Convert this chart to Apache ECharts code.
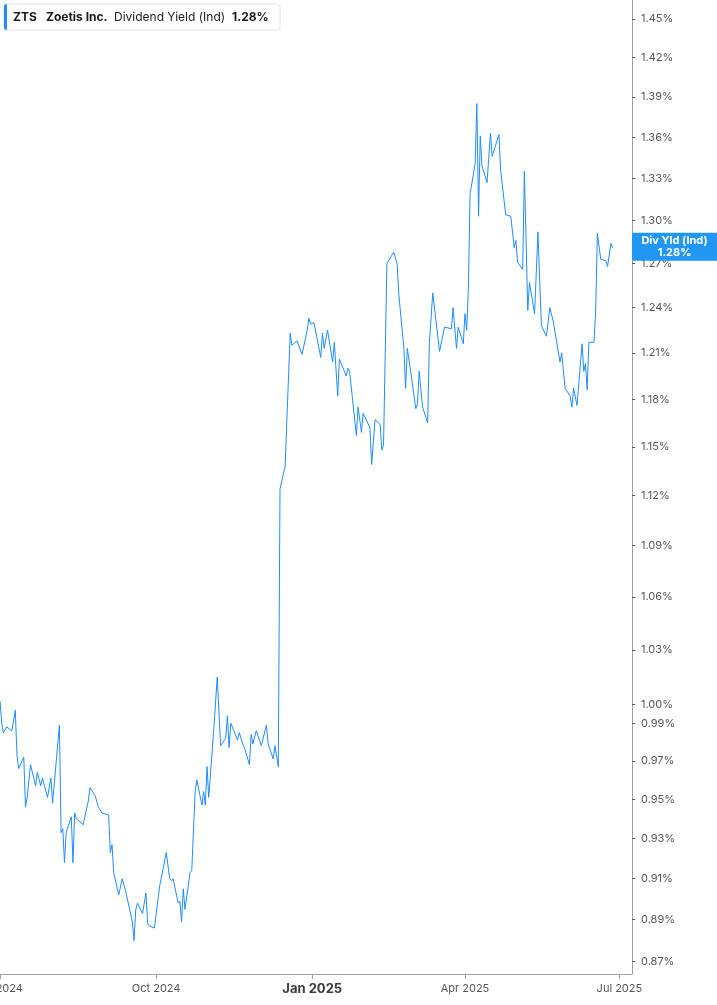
<!DOCTYPE html>
<html>
<head>
<meta charset="utf-8">
<title>ZTS Dividend Yield</title>
<script src="https://cdn.jsdelivr.net/npm/echarts@6.0.0/dist/echarts.min.js"></script>
<style>
  html, body { margin: 0; padding: 0; background: #fff; }
  #chart { width: 717px; height: 1005px; }
</style>
</head>
<body>
<div id="chart"></div>
<script>
// 日期 (交易日, 按月分行)
var dates = [
  '2024-07-01','2024-07-02','2024-07-03','2024-07-05','2024-07-08','2024-07-10','2024-07-11','2024-07-12','2024-07-15','2024-07-16','2024-07-17','2024-07-19','2024-07-22','2024-07-23','2024-07-25','2024-07-26','2024-07-29','2024-07-30','2024-07-31',
  '2024-08-01','2024-08-05','2024-08-06','2024-08-07','2024-08-08','2024-08-09','2024-08-12','2024-08-13','2024-08-14','2024-08-15','2024-08-16','2024-08-19','2024-08-22','2024-08-23','2024-08-26','2024-08-28','2024-08-29','2024-08-30',
  '2024-09-03','2024-09-04','2024-09-05','2024-09-06','2024-09-09','2024-09-11','2024-09-13','2024-09-17','2024-09-18','2024-09-19','2024-09-20','2024-09-23','2024-09-24','2024-09-25','2024-09-26','2024-09-27','2024-09-30',
  '2024-10-03','2024-10-07','2024-10-08','2024-10-09','2024-10-10','2024-10-11','2024-10-14','2024-10-15','2024-10-16','2024-10-17','2024-10-18','2024-10-21','2024-10-22','2024-10-24','2024-10-25','2024-10-28','2024-10-29','2024-10-30','2024-10-31',
  '2024-11-01','2024-11-04','2024-11-05','2024-11-06','2024-11-08','2024-11-11','2024-11-12','2024-11-13','2024-11-14','2024-11-18','2024-11-19','2024-11-21','2024-11-22','2024-11-25','2024-11-26','2024-11-27','2024-11-29',
  '2024-12-02','2024-12-03','2024-12-05','2024-12-06','2024-12-09','2024-12-10','2024-12-12','2024-12-13','2024-12-16','2024-12-19','2024-12-20','2024-12-23','2024-12-26','2024-12-29','2024-12-30','2024-12-31',
  '2025-01-02','2025-01-06','2025-01-07','2025-01-08','2025-01-10','2025-01-13','2025-01-14','2025-01-16','2025-01-17','2025-01-21','2025-01-22','2025-01-23','2025-01-27','2025-01-28','2025-01-29','2025-01-30','2025-01-31',
  '2025-02-04','2025-02-05','2025-02-07','2025-02-10','2025-02-11','2025-02-12','2025-02-14','2025-02-18','2025-02-19','2025-02-20','2025-02-21','2025-02-24','2025-02-25','2025-02-26','2025-02-27','2025-02-28',
  '2025-03-03','2025-03-04','2025-03-05','2025-03-06','2025-03-07','2025-03-10','2025-03-11','2025-03-13','2025-03-17','2025-03-20','2025-03-21','2025-03-24','2025-03-25','2025-03-27','2025-03-28','2025-03-31',
  '2025-04-01','2025-04-02','2025-04-03','2025-04-04','2025-04-05','2025-04-07','2025-04-08','2025-04-09','2025-04-10','2025-04-11','2025-04-14','2025-04-16','2025-04-17','2025-04-21','2025-04-22','2025-04-25','2025-04-28','2025-04-30',
  '2025-05-01','2025-05-02','2025-05-05','2025-05-06','2025-05-08','2025-05-09','2025-05-12','2025-05-14','2025-05-16','2025-05-19','2025-05-20','2025-05-21','2025-05-23','2025-05-27','2025-05-28','2025-05-30',
  '2025-06-02','2025-06-03','2025-06-04','2025-06-05','2025-06-06','2025-06-09','2025-06-10','2025-06-11','2025-06-12','2025-06-13','2025-06-16','2025-06-17','2025-06-18','2025-06-20','2025-06-23','2025-06-24','2025-06-26','2025-06-27'
];
// 股息率 (%)
var yields = [
  1.002,0.990,0.985,0.988,0.986,0.997,0.973,0.966,0.972,0.946,0.951,0.968,0.957,0.964,0.957,0.961,0.951,0.951,0.961,
  0.948,0.989,0.933,0.935,0.918,0.933,0.941,0.918,0.943,0.940,0.941,0.937,0.949,0.956,0.952,0.946,0.946,0.943,
  0.942,0.923,0.927,0.913,0.902,0.910,0.904,0.889,0.880,0.895,0.898,0.893,0.893,0.903,0.888,0.887,0.886,
  0.906,0.923,0.923,0.910,0.909,0.910,0.898,0.899,0.889,0.905,0.895,0.913,0.914,0.954,0.960,0.947,0.954,0.947,0.967,
  0.951,0.987,0.987,1.015,0.978,0.982,0.994,0.977,0.990,0.981,0.985,0.979,0.977,0.968,0.984,0.979,0.986,
  0.978,0.977,0.989,0.979,0.971,0.978,0.967,1.124,1.138,1.223,1.215,1.218,1.209,1.225,1.233,1.229,
  1.230,1.207,1.223,1.213,1.225,1.204,1.217,1.182,1.206,1.195,1.200,1.198,1.157,1.175,1.175,1.159,1.171,
  1.162,1.139,1.167,1.164,1.148,1.151,1.270,1.278,1.277,1.270,1.249,1.213,1.187,1.213,1.213,1.198,
  1.174,1.177,1.198,1.197,1.175,1.165,1.216,1.250,1.211,1.227,1.227,1.226,1.240,1.213,1.227,1.216,
  1.236,1.225,1.253,1.319,1.326,1.341,1.385,1.303,1.361,1.339,1.327,1.363,1.346,1.362,1.336,1.304,1.303,1.281,
  1.286,1.271,1.266,1.335,1.238,1.257,1.236,1.292,1.228,1.221,1.222,1.240,1.231,1.204,1.210,1.187,
  1.182,1.175,1.187,1.186,1.176,1.216,1.198,1.203,1.186,1.217,1.217,1.237,1.291,1.273,1.272,1.268,1.284,1.281
];
// 坐标轴刻度
var yTicks = [1.45,1.42,1.39,1.36,1.33,1.30,1.27,1.24,1.21,1.18,1.15,1.12,1.09,1.06,1.03,1.00,0.99,0.97,0.95,0.93,0.91,0.89,0.87];
var xTicks = ['2024-07-01','2024-10-01','2025-01-01','2025-04-01','2025-07-01'];
var monthNames = ['Jan','Feb','Mar','Apr','May','Jun','Jul','Aug','Sep','Oct','Nov','Dec'];

var xMin = '2024-07-01', xMax = '2025-07-08 10:00';
var yMin = 0.8642, yMax = 1.465;

var blue = '#1e8cff';
var font = 'Inter, Roboto, sans-serif';

// 'YYYY-MM-DD[ HH:mm]' -> 时间戳
function toTime(s){
  var p = s.split(/[- :]/);
  return new Date(+p[0], +p[1] - 1, +p[2], +(p[3] || 0), +(p[4] || 0)).getTime();
}

window.onload = function(){
  var myChart = echarts.init(document.getElementById('chart'));
  var seriesData = [];
  for(var i = 0; i < dates.length; i++){
    seriesData.push([toTime(dates[i]), yields[i]]);
  }
  var xTickTimes = xTicks.map(toTime);
  var last = yields[yields.length - 1];
  var lastText = last.toFixed(2) + '%';

  var option = {
    animation: false,
    backgroundColor: '#fff',
    textStyle: { fontFamily: font },
    grid: { left: 0, right: 85, top: 0, bottom: 31, outerBoundsMode: 'none', containLabel: false },
    xAxis: {
      type: 'value',
      min: toTime(xMin),
      max: toTime(xMax),
      axisLine: { show: true, lineStyle: { color: '#a0a0a0', width: 1 } },
      axisTick: { show: true, customValues: xTickTimes, length: 5, lineStyle: { color: '#a0a0a0' } },
      axisLabel: {
        customValues: xTickTimes,
        margin: 9,
        color: '#555',
        fontSize: 11,
        fontFamily: font,
        formatter: function(v){
          var d = new Date(v);
          var s = monthNames[d.getMonth()] + ' ' + d.getFullYear();
          return d.getMonth() === 0 ? '{b|' + s + '}' : s;
        },
        rich: {
          b: { fontSize: 13, fontWeight: 'bold', color: '#3a3a3a', fontFamily: font }
        }
      },
      splitLine: { show: false }
    },
    yAxis: {
      type: 'log',
      logBase: 10,
      position: 'right',
      min: yMin,
      max: yMax,
      axisLine: { show: true, lineStyle: { color: '#a0a0a0', width: 1 } },
      axisTick: { show: true, customValues: yTicks, length: 3, lineStyle: { color: '#555' } },
      axisLabel: {
        customValues: yTicks,
        margin: 9,
        color: '#555',
        fontSize: 11,
        fontFamily: font,
        formatter: function(v){ return (+v).toFixed(2) + '%'; }
      },
      splitLine: { show: false }
    },
    series: [{
      type: 'line',
      data: seriesData,
      showSymbol: false,
      lineStyle: { color: blue, width: 1 },
      itemStyle: { color: blue },
      markPoint: {
        symbol: 'rect',
        symbolSize: [85, 28],
        symbolOffset: [42.5, -1],
        silent: true,
        itemStyle: { color: '#2196f3' },
        label: {
          show: true,
          position: 'inside',
          color: '#fff',
          fontSize: 11,
          fontWeight: 'bold',
          lineHeight: 12,
          fontFamily: font,
          formatter: 'Div Yld (Ind)\n' + lastText
        },
        data: [{ coord: [toTime(xMax), last] }]
      }
    }],
    //左上角标题框
    graphic: [{
      type: 'group',
      x: 0,
      y: 0,
      children: [
        { type: 'rect', shape: { x: 4, y: 4, width: 276, height: 26, r: 3 }, style: { fill: '#fff', stroke: '#e4e4e4', lineWidth: 1 } },
        { type: 'rect', shape: { x: 4, y: 4, width: 3, height: 26, r: [3, 0, 0, 3] }, style: { fill: blue } },
        { type: 'text', x: 13, y: 17, style: { text: 'ZTS', fill: '#1a1a1a', font: 'bold 12px ' + font, verticalAlign: 'middle' } },
        { type: 'text', x: 46, y: 17, style: { text: 'Zoetis Inc.', fill: '#1a1a1a', font: 'bold 12px ' + font, verticalAlign: 'middle' } },
        { type: 'text', x: 114, y: 17, style: { text: 'Dividend Yield (Ind)', fill: '#1a1a1a', font: '12px ' + font, verticalAlign: 'middle' } },
        { type: 'text', x: 232, y: 17, style: { text: lastText, fill: '#1a1a1a', font: 'bold 12px ' + font, verticalAlign: 'middle' } }
      ]
    }]
  };
  myChart.setOption(option);
};
</script>
</body>
</html>
